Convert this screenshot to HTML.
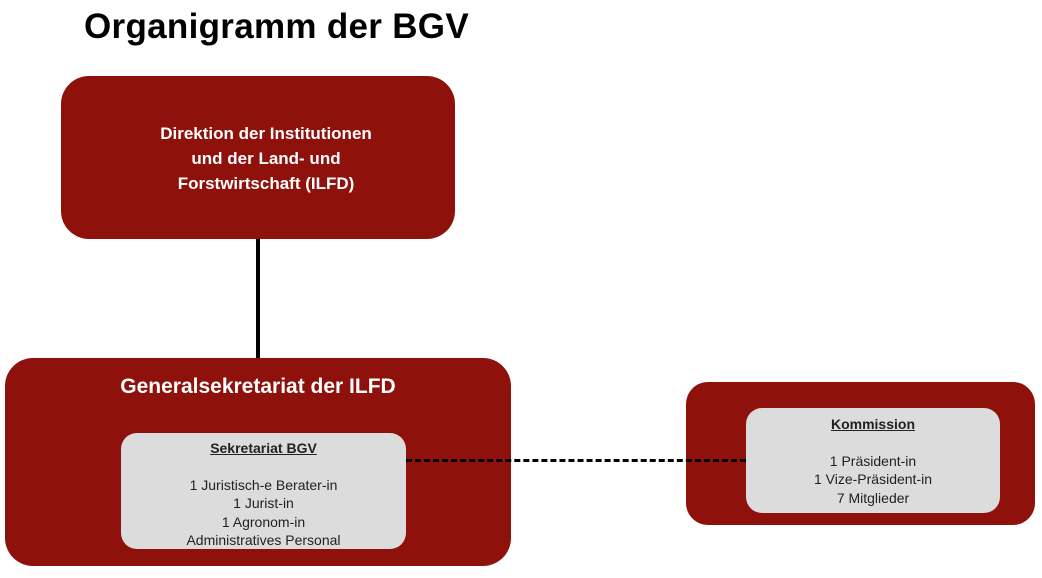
<!DOCTYPE html>
<html><head><meta charset="utf-8"><style>
body{margin:0;width:1042px;height:578px;background:#fff;position:relative;overflow:hidden;font-family:"Liberation Sans",sans-serif}
.a{position:absolute}
.red{background:#8f110c;border-radius:28px}
.grey{background:#dcdcdc;border-radius:16px;color:#222;text-align:center;font-size:14px;line-height:18.5px}
.w{color:#fff;font-weight:bold;text-align:center}
</style></head><body>
<div class="a" style="left:84px;top:7px;font-size:35px;font-weight:bold;color:#000;letter-spacing:0.3px">Organigramm der BGV</div>
<div class="a red" style="left:61px;top:76px;width:394px;height:163px"></div>
<div class="a w" style="left:61px;top:121px;width:410px;font-size:17px;line-height:25px">Direktion der Institutionen<br>und der Land- und<br>Forstwirtschaft (ILFD)</div>
<div class="a" style="left:256px;top:239px;width:4px;height:120px;background:#000"></div>
<div class="a red" style="left:5px;top:358px;width:506px;height:208px"></div>
<div class="a w" style="left:5px;top:375px;width:506px;font-size:21px">Generalsekretariat der ILFD</div>
<div class="a grey" style="left:121px;top:433px;width:285px;height:116px">
<div style="margin-top:6px;font-weight:bold;text-decoration:underline">Sekretariat BGV</div>
<div style="margin-top:18px">1 Juristisch-e Berater-in<br>1 Jurist-in<br>1 Agronom-in<br>Administratives Personal</div></div>
<div class="a red" style="left:686px;top:382px;width:349px;height:143px;border-radius:22px"></div>
<div class="a grey" style="left:746px;top:408px;width:254px;height:105px">
<div style="margin-top:7px;font-weight:bold;text-decoration:underline">Kommission</div>
<div style="margin-top:18px">1 Präsident-in<br>1 Vize-Präsident-in<br>7 Mitglieder</div></div>
<div class="a" style="left:406px;top:459px;width:340px;border-top:3px dashed #000;z-index:5"></div>
</body></html>
